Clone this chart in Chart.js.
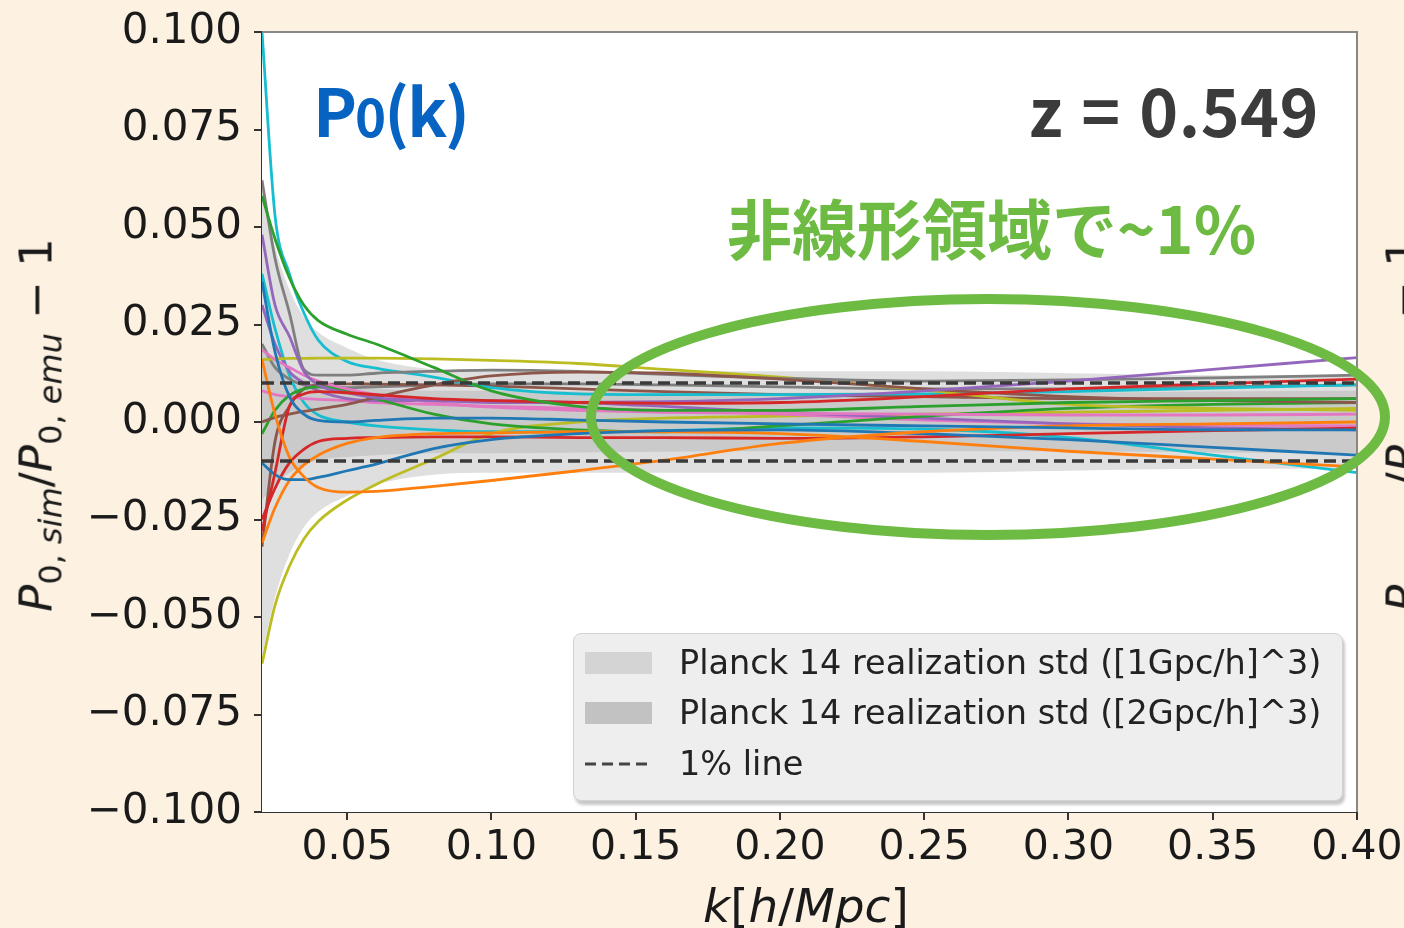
<!DOCTYPE html>
<html>
<head>
<meta charset="utf-8">
<script src="https://cdn.jsdelivr.net/npm/chart.js@4.4.1/dist/chart.umd.min.js"></script>
<style>
  body { margin: 0; width: 1404px; height: 928px; overflow: hidden; background: #fdf2e1; position: relative; font-family: "DejaVu Sans", sans-serif; }
  #c { position: absolute; left: 0; top: 0; }
  .note { position: absolute; font-family: "Noto Sans CJK JP", "Noto Sans", sans-serif; font-weight: 700; line-height: 1; white-space: nowrap; }
  .axt { position: absolute; font-family: "DejaVu Sans", sans-serif; color: #1a1a1a; white-space: nowrap; line-height: 1; }
  .axt sub { font-size: 32px; vertical-align: -10px; }
  .ylab { font-size: 45px; transform: translate(-50%, -50%) rotate(-90deg); }
  #legend { position: absolute; left: 573px; top: 633px; width: 768px; height: 166px; background: #eeeeee; border: 1px solid #d2d2d2; border-radius: 8px; box-shadow: 2px 4px 3px rgba(0,0,0,0.22); font-family: "DejaVu Sans", sans-serif; font-size: 33.5px; color: #222; }
  .row { position: absolute; left: 0; height: 40px; width: 100%; }
  .row span { position: absolute; left: 105px; top: 0; line-height: 40px; white-space: nowrap; }
  .patch { position: absolute; left: 11px; top: 9px; width: 67px; height: 22px; }
</style>
</head>
<body>
<canvas id="c" width="1412" height="928"></canvas>

<div class="axt ylab" style="left:40px; top:425px;"><i>P</i><sub>0, <i>sim</i></sub>/<i>P</i><sub>0, <i>emu</i></sub> − 1</div>
<div class="axt ylab" style="left:1407px; top:425px;"><i>P</i><sub>0, <i>sim</i></sub>/<i>P</i><sub>0, <i>emu</i></sub> − 1</div>
<div class="axt" style="left:703px; top:882px; font-size:47px;"><i>k</i>[<i>h</i>/<i>Mpc</i>]</div>

<div class="note" style="left:313px; top:75px; font-size:66px; letter-spacing:-2px; color:#0663c2;">P<span style="font-size:0.8em">0</span>(k)</div>
<div class="note" style="right:85px; top:75px; font-size:66px; letter-spacing:0.5px; word-spacing:3px; color:#3b3b3b;">z = 0.549</div>
<div class="note" style="left:727px; top:194px; font-size:65px; color:#6ebb44;">非線形領域で~1%</div>

<div id="legend">
  <div class="row" style="top:9px;"><div class="patch" style="background:#d4d4d4;"></div><span>Planck 14 realization std ([1Gpc/h]^3)</span></div>
  <div class="row" style="top:59px;"><div class="patch" style="background:#c2c2c2;"></div><span>Planck 14 realization std ([2Gpc/h]^3)</span></div>
  <div class="row" style="top:110px;">
    <svg style="position:absolute;left:11px;top:16px;" width="68" height="8"><line x1="0" y1="4" x2="68" y2="4" stroke="#444" stroke-width="3" stroke-dasharray="11,6"/></svg>
    <span>1% line</span></div>
</div>

<script>
// wavenumbers k [h/Mpc]
const kValues = [0.0205, 0.025, 0.03, 0.035, 0.04, 0.05, 0.06, 0.08, 0.10, 0.13, 0.16, 0.20, 0.25, 0.30, 0.35, 0.40];

// P_sim / P_emu - 1 for each simulation
const blue1   = [0.036, 0.018, 0.0065, 0.002, 0.0004, 0.0, 0.0004, 0.001, 0.001, 0.0005, 0.0, -0.0005, -0.001, -0.0015, -0.002, -0.002];
const orange1 = [0.016, 0.002, -0.009, -0.014, -0.0168, -0.018, -0.0178, -0.0165, -0.015, -0.0125, -0.0098, -0.0055, -0.0025, -0.001, -0.0005, 0.0];
const green1  = [0.058, 0.047, 0.037, 0.030, 0.026, 0.0225, 0.020, 0.014, 0.008, 0.004, 0.003, 0.003, 0.004, 0.005, 0.0055, 0.006];
const red1    = [-0.028, -0.013, 0.004, 0.0072, 0.0078, 0.0075, 0.007, 0.006, 0.0055, 0.005, 0.0048, 0.005, 0.0065, 0.0085, 0.0098, 0.011];
const purple1 = [0.048, 0.030, 0.022, 0.013, 0.0095, 0.0075, 0.0062, 0.0055, 0.005, 0.005, 0.0052, 0.006, 0.008, 0.0105, 0.0135, 0.0165];
const brown1  = [0.0, 0.0012, 0.002, 0.0027, 0.0033, 0.0045, 0.0063, 0.0095, 0.0118, 0.0128, 0.0125, 0.011, 0.0085, 0.0065, 0.0055, 0.005];
const pink1   = [0.0185, 0.016, 0.014, 0.012, 0.0105, 0.0085, 0.007, 0.005, 0.0038, 0.003, 0.0025, 0.0022, 0.002, 0.0018, 0.0018, 0.002];
const gray1   = [0.062, 0.042, 0.028, 0.0135, 0.012, 0.012, 0.0125, 0.013, 0.0133, 0.013, 0.0122, 0.0112, 0.0105, 0.0108, 0.0113, 0.012];
const olive1  = [0.016, 0.0162, 0.0163, 0.0163, 0.0164, 0.0164, 0.0164, 0.0162, 0.0158, 0.015, 0.0135, 0.0115, 0.0082, 0.0045, 0.0035, 0.003];
const cyan1   = [0.100, 0.053, 0.038, 0.028, 0.021, 0.0155, 0.0138, 0.0115, 0.0088, 0.0072, 0.007, 0.007, 0.0072, 0.0078, 0.0087, 0.0095];
const blue2   = [-0.0105, -0.0135, -0.0148, -0.0148, -0.0142, -0.0125, -0.0108, -0.0068, -0.0045, -0.003, -0.0022, -0.002, -0.003, -0.0045, -0.0065, -0.0085];
const orange2 = [-0.031, -0.022, -0.015, -0.011, -0.0085, -0.0055, -0.004, -0.003, -0.0028, -0.0025, -0.0025, -0.003, -0.005, -0.0075, -0.0095, -0.0115];
const green2  = [-0.003, 0.003, 0.0068, 0.0085, 0.009, 0.008, 0.006, 0.002, -0.0005, -0.002, -0.0025, -0.001, 0.0015, 0.0035, 0.0045, 0.005];
const red2    = [-0.025, -0.017, -0.0105, -0.007, -0.005, -0.0042, -0.004, -0.0038, -0.0038, -0.004, -0.004, -0.0042, -0.0038, -0.003, -0.0022, -0.0016];
const purple2 = [0.030, 0.020, 0.013, 0.010, 0.008, 0.006, 0.0055, 0.0055, 0.0055, 0.005, 0.004, 0.0025, 0.001, -0.0005, -0.0015, -0.002];
const brown2  = [-0.032, -0.005, 0.004, 0.0085, 0.0095, 0.0098, 0.0097, 0.0095, 0.0092, 0.0085, 0.0078, 0.007, 0.0065, 0.006, 0.006, 0.006];
const pink2   = [0.008, 0.007, 0.0065, 0.006, 0.0058, 0.0055, 0.005, 0.0045, 0.004, 0.0035, 0.003, 0.002, 0.0005, -0.0005, -0.0008, -0.001];
const gray2   = [0.020, 0.014, 0.011, 0.0095, 0.009, 0.0088, 0.009, 0.0095, 0.0098, 0.0098, 0.0095, 0.009, 0.0085, 0.0085, 0.009, 0.0095];
const olive2  = [-0.062, -0.047, -0.037, -0.030, -0.0255, -0.020, -0.016, -0.0095, -0.003, 0.0, 0.001, 0.0015, 0.002, 0.0025, 0.003, 0.0035];
const cyan2   = [0.038, 0.024, 0.012, 0.005, 0.0018, 0.0, -0.001, -0.002, -0.0025, -0.0025, -0.0022, -0.0015, -0.0018, -0.004, -0.0085, -0.013];

// realization std bands (half widths)
const std1Gpc = [0.060, 0.045, 0.034, 0.027, 0.023, 0.019, 0.016, 0.0135, 0.013, 0.013, 0.013, 0.013, 0.013, 0.0125, 0.012, 0.012];
const std2Gpc = [0.020, 0.016, 0.013, 0.011, 0.0098, 0.009, 0.0085, 0.008, 0.008, 0.0078, 0.0076, 0.0075, 0.0075, 0.0075, 0.0078, 0.008];

const onePercent = 0.01;

const xTicks = [0.05, 0.10, 0.15, 0.20, 0.25, 0.30, 0.35, 0.40];
const xTickLabels = ["0.05", "0.10", "0.15", "0.20", "0.25", "0.30", "0.35", "0.40"];
const yTicks = [-0.100, -0.075, -0.050, -0.025, 0.000, 0.025, 0.050, 0.075, 0.100];
const yTickLabels = ["−0.100", "−0.075", "−0.050", "−0.025", "0.000", "0.025", "0.050", "0.075", "0.100"];

const series = [blue1, orange1, green1, red1, purple1, brown1, pink1, gray1, olive1, cyan1,
                blue2, orange2, green2, red2, purple2, brown2, pink2, gray2, olive2, cyan2];
const tab10 = ["#1f77b4", "#ff7f0e", "#2ca02c", "#d62728", "#9467bd", "#8c564b", "#e377c2", "#7f7f7f", "#bcbd22", "#17becf"];

const xy = arr => kValues.map((k, i) => ({ x: k, y: arr[i] }));

const datasets = [];
series.forEach((s, i) => {
    datasets.push({
        data: xy(s),
        borderColor: tab10[i % 10],
        borderWidth: 2.8,
        pointRadius: 0,
        cubicInterpolationMode: "monotone",
        fill: false,
        order: 1
    });
});

// 1% lines
[onePercent, -onePercent].forEach(v => {
    datasets.push({
        data: [{ x: kValues[0], y: v }, { x: kValues[kValues.length - 1], y: v }],
        borderColor: "#3a3a3a",
        borderWidth: 3.5,
        borderDash: [12, 6],
        pointRadius: 0,
        fill: false,
        order: 0
    });
});

// std bands
const band = (arr, color, order) => {
    datasets.push({
        data: xy(arr),
        borderWidth: 0,
        pointRadius: 0,
        cubicInterpolationMode: "monotone",
        backgroundColor: color,
        fill: "+1",
        order: order
    });
    datasets.push({
        data: xy(arr.map(v => -v)),
        borderWidth: 0,
        pointRadius: 0,
        cubicInterpolationMode: "monotone",
        fill: false,
        order: order
    });
};
band(std1Gpc, "#dfdfdf", 3);
band(std2Gpc, "#cacaca", 2);

const plotBg = {
    id: "plotBg",
    beforeDatasetsDraw(chart) {
        const a = chart.chartArea, ctx = chart.ctx;
        ctx.save();
        ctx.fillStyle = "#ffffff";
        ctx.fillRect(a.left, a.top, a.right - a.left, a.bottom - a.top);
        ctx.restore();
    },
    afterDatasetsDraw(chart) {
        const a = chart.chartArea, ctx = chart.ctx;
        ctx.save();
        ctx.strokeStyle = "#888888";
        ctx.lineWidth = 2;
        ctx.beginPath();
        ctx.moveTo(a.left, a.top);
        ctx.lineTo(a.right, a.top);
        ctx.lineTo(a.right, a.bottom);
        ctx.stroke();
        ctx.restore();
    },
    afterDraw(chart) {
        // highlight ellipse
        const ctx = chart.ctx;
        ctx.save();
        ctx.strokeStyle = "#6ebb44";
        ctx.lineWidth = 10;
        ctx.beginPath();
        ctx.ellipse(988, 417, 397, 118, 0, 0, Math.PI * 2);
        ctx.stroke();
        ctx.restore();
    }
};

new Chart(document.getElementById("c"), {
    type: "line",
    data: { datasets: datasets },
    options: {
        responsive: false,
        devicePixelRatio: 1,
        animation: false,
        events: [],
        layout: { padding: { left: 0, top: 32, right: 55, bottom: 0 } },
        plugins: { legend: { display: false }, tooltip: { enabled: false } },
        scales: {
            x: {
                type: "linear",
                min: kValues[0],
                max: 0.40,
                afterBuildTicks: s => { s.ticks = xTicks.map(v => ({ value: v })); },
                afterFit: s => { s.height = 116; },
                ticks: {
                    callback: (v, i) => xTickLabels[i],
                    font: { family: "DejaVu Sans", size: 41 },
                    color: "#1a1a1a",
                    padding: 4,
                    maxRotation: 0,
                    autoSkip: false
                },
                grid: { drawOnChartArea: false, drawTicks: true, tickLength: 8, color: "#333333", lineWidth: 2 },
                border: { display: true, color: "#333333", width: 2 }
            },
            y: {
                min: -0.1,
                max: 0.1,
                afterBuildTicks: s => { s.ticks = yTicks.map(v => ({ value: v })); },
                afterFit: s => { s.width = 262; },
                ticks: {
                    callback: (v, i) => yTickLabels[i],
                    font: { family: "DejaVu Sans", size: 42, lineHeight: 0.8 },
                    color: "#1a1a1a",
                    padding: 12,
                    autoSkip: false
                },
                grid: { drawOnChartArea: false, drawTicks: true, tickLength: 8, color: "#333333", lineWidth: 2 },
                border: { display: true, color: "#333333", width: 2 }
            }
        }
    },
    plugins: [plotBg]
});
</script>
</body>
</html>
